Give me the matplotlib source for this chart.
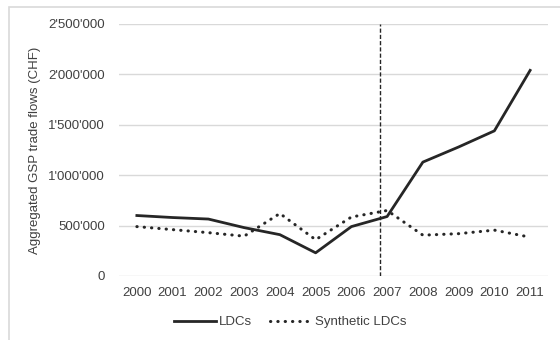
import matplotlib
matplotlib.use('Agg')
import matplotlib.pyplot as plt
from matplotlib.patches import Rectangle
from matplotlib.ticker import FuncFormatter

plt.rcParams['font.family'] = ['Liberation Sans', 'DejaVu Sans']

years = [str(y) for y in range(2000, 2012)]
ldcs = [600000, 580000, 565000, 480000, 410000, 230000, 490000, 590000,
        1130000, 1280000, 1440000, 2040000]
synthetic = [490000, 460000, 430000, 395000, 620000, 360000, 585000, 650000,
             405000, 420000, 455000, 385000]
treatment_x = 6.8

fig = plt.figure(figsize=(5.6, 3.4), dpi=100)
fig.patches.append(Rectangle((9 / 560, -0.1), 1.2, 1 - 7 / 340 + 0.1,
                             transform=fig.transFigure, fill=False,
                             edgecolor='#d9d9d9', lw=1.2))
ax = fig.add_axes([119 / 560, 1 - 276 / 340, 429 / 560, 252 / 340])

x = range(len(years))
ax.plot(x, ldcs, color='#262626', lw=2.0, solid_joinstyle='round',
        label='LDCs')
ax.plot(x, synthetic, color='#262626', lw=2.2, linestyle=(0, (0.1, 2.3)),
        dash_capstyle='round', label='Synthetic LDCs')
ax.axvline(treatment_x, color='#262626', lw=1.0, linestyle=(0, (3, 1.5)))

ax.set_xlim(-0.5, 11.5)
ax.set_ylim(0, 2500000)
ax.set_yticks(range(0, 2500001, 500000))
ax.yaxis.set_major_formatter(FuncFormatter(lambda v, p: f"{int(v):,}".replace(',', "'")))
ax.set_xticks(list(x))
ax.set_xticklabels(years)
ax.grid(axis='y', color='#d9d9d9', lw=1)
ax.set_axisbelow(True)
for s in ax.spines.values():
    s.set_visible(False)
ax.tick_params(length=0, labelsize=9.5, colors='#404040', pad=8)
ax.tick_params(axis='y', pad=10)
ax.set_ylabel('Aggregated GSP trade flows (CHF)', fontsize=9.5, color='#404040')
ax.yaxis.set_label_coords(-0.182, 0.5)

fig.legend(loc='center', bbox_to_anchor=(290 / 560, 1 - 322 / 340), ncol=2,
           frameon=False, fontsize=9.5, handlelength=3.2, columnspacing=1.4,
           handletextpad=0.2, labelcolor='#404040')

fig.savefig('out.png', dpi=100)
